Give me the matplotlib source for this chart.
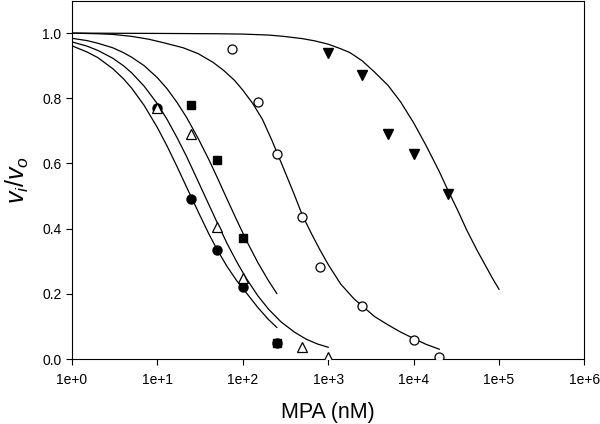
import math

import matplotlib
matplotlib.use("Agg")
import matplotlib.pyplot as plt
from matplotlib.ticker import FixedLocator, FuncFormatter, NullLocator

plt.rcParams["font.family"] = ["Liberation Sans", "DejaVu Sans"]
plt.rcParams["mathtext.fontset"] = "custom"
plt.rcParams["mathtext.rm"] = "Liberation Sans"
plt.rcParams["mathtext.it"] = "Liberation Sans:italic"

# measured points (MPA nM, vi/vo)
circ_x = [10, 25, 50, 100, 250]
circ_y = [0.77, 0.49, 0.333, 0.22, 0.05]
tri_x = [10, 25, 50, 100, 500, 1000]
tri_y = [0.77, 0.69, 0.405, 0.25, 0.038, 0.007]
sq_x = [25, 50, 100, 250]
sq_y = [0.78, 0.61, 0.37, 0.05]
ocirc_x = [75, 150, 250, 500, 800, 2500, 10000, 20000]
ocirc_y = [0.95, 0.79, 0.63, 0.437, 0.282, 0.162, 0.057, 0.006]
dtri_x = [1000, 2500, 5000, 10000, 25000]
dtri_y = [0.94, 0.872, 0.69, 0.628, 0.507]

# fitted curves
fit_circ_x = [1, 1.5, 2, 3, 4, 5, 7, 10, 13, 17, 22, 30, 40, 50, 65, 85, 110,
              150, 200, 250]
fit_circ_y = [0.961, 0.942, 0.925, 0.891, 0.86, 0.831, 0.778, 0.71, 0.653,
              0.59, 0.527, 0.452, 0.384, 0.336, 0.285, 0.24, 0.203, 0.158,
              0.121, 0.097]
fit_tri_x = [1, 1.5, 2, 3, 4, 5, 7, 10, 13, 17, 22, 30, 40, 50, 65, 85, 110,
             150, 200, 280, 400, 550, 750, 1000]
fit_tri_y = [0.973, 0.96, 0.947, 0.923, 0.9, 0.878, 0.837, 0.783, 0.735,
             0.679, 0.621, 0.545, 0.474, 0.419, 0.356, 0.298, 0.247, 0.194,
             0.153, 0.114, 0.083, 0.061, 0.046, 0.036]
fit_sq_x = [1, 1.5, 2, 3, 4, 5, 7, 10, 13, 17, 22, 30, 40, 50, 65, 85, 110,
            150, 200, 250]
fit_sq_y = [0.984, 0.977, 0.969, 0.955, 0.94, 0.926, 0.9, 0.863, 0.829, 0.787,
            0.741, 0.677, 0.612, 0.558, 0.492, 0.426, 0.364, 0.296, 0.24, 0.201]
fit_ocirc_x = [1, 2, 3, 5, 8, 12, 20, 30, 45, 60, 80, 100, 130, 170, 220, 300,
               400, 500, 650, 800, 1000, 1400, 2000, 2500, 3500, 5000, 7000,
               10000, 14000, 20000]
fit_ocirc_y = [1.0, 0.998, 0.996, 0.99, 0.981, 0.97, 0.955, 0.937, 0.91, 0.885,
               0.855, 0.825, 0.785, 0.735, 0.67, 0.585, 0.505, 0.44, 0.38,
               0.335, 0.29, 0.23, 0.185, 0.163, 0.13, 0.105, 0.083, 0.063,
               0.045, 0.03]
fit_dtri_x = [1, 10, 50, 100, 200, 300, 500, 700, 1000, 1400, 1800, 2500, 3500,
              5000, 7000, 10000, 14000, 20000, 25000, 33000, 42000, 55000,
              70000, 85000, 100000]
fit_dtri_y = [1.0, 0.999, 0.998, 0.997, 0.994, 0.99, 0.983, 0.976, 0.966,
              0.952, 0.94, 0.915, 0.88, 0.84, 0.79, 0.725, 0.655, 0.575, 0.52,
              0.455, 0.395, 0.335, 0.285, 0.245, 0.214]

x_ticks = [1, 10, 100, 1000, 10000, 100000, 1000000]
y_ticks = [0.0, 0.2, 0.4, 0.6, 0.8, 1.0]

fig = plt.figure(figsize=(6.0, 4.24), dpi=100)
ax = fig.add_axes([0.12, 0.1533, 0.854, 0.8455])

for fx, fy in [(fit_circ_x, fit_circ_y), (fit_tri_x, fit_tri_y),
               (fit_sq_x, fit_sq_y), (fit_ocirc_x, fit_ocirc_y),
               (fit_dtri_x, fit_dtri_y)]:
    ax.plot(fx, fy, color="black", lw=0.9, zorder=2)

ms = 6.5
ax.plot(circ_x, circ_y, "o", ms=ms, color="black", zorder=3)
ax.plot(sq_x, sq_y, "s", ms=ms - 0.5, color="black", zorder=3)
ax.plot(ocirc_x, ocirc_y, "o", ms=ms, mfc="white", mec="black", mew=0.9, zorder=3)
ax.plot(dtri_x, dtri_y, "v", ms=ms + 0.5, color="black", zorder=3)
ax.plot(tri_x, tri_y, "^", ms=ms + 0.5, mfc="white", mec="black", mew=0.9, zorder=4)

ax.set_xscale("log")
ax.set_xlim(1, 1e6)
ax.set_ylim(0, 1.1)
ax.xaxis.set_major_locator(FixedLocator(x_ticks))
ax.xaxis.set_minor_locator(NullLocator())
ax.xaxis.set_major_formatter(FuncFormatter(lambda v, p: "1e+%d" % round(math.log10(v))))
ax.set_yticks(y_ticks)
ax.yaxis.set_major_formatter(FuncFormatter(lambda v, p: "%.1f" % v))

ax.tick_params(direction="out", length=4, width=0.8, labelsize=10, colors="black")
ax.tick_params(axis="x", pad=6)
for s in ax.spines.values():
    s.set_linewidth(0.8)

ax.set_xlabel("MPA (nM)", fontsize=15.5, labelpad=11)
ax.set_ylabel(r"$v_i/v_o$", fontsize=18, labelpad=8)

fig.savefig("out.png", dpi=100)
